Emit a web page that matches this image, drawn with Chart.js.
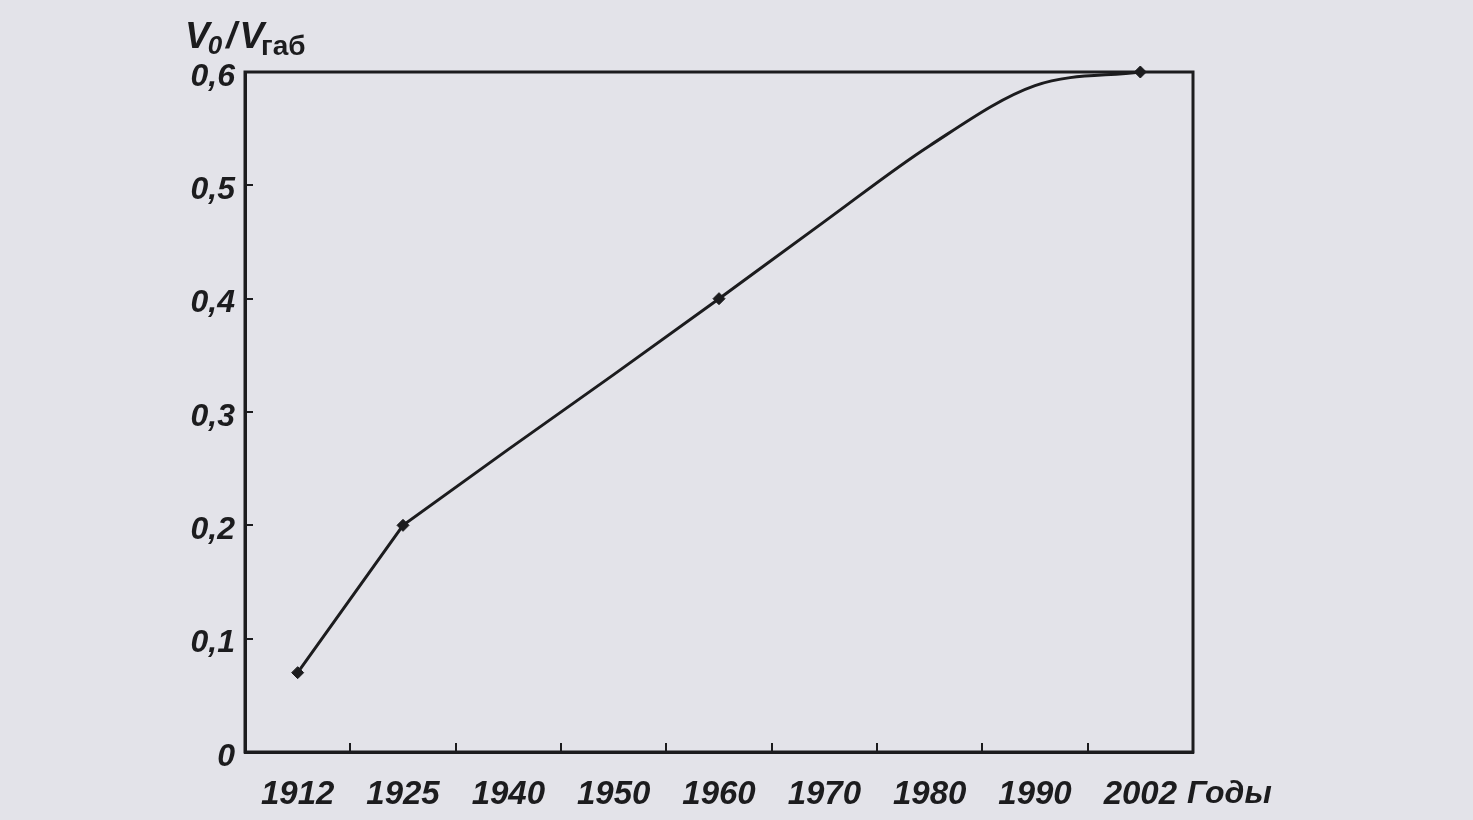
<!DOCTYPE html>
<html lang="ru">
<head>
    <meta charset="UTF-8">
    <title>V0/Vгаб по годам</title>
    <script src="https://cdn.jsdelivr.net/npm/chart.js"></script>
    <style>
        html, body {
            margin: 0;
            padding: 0;
            background-color: #e3e3e9;
        }
        #wrap {
            width: 1473px;
            height: 820px;
        }
    </style>
</head>
<body>

<div id="wrap">
    <canvas id="ratioChart" width="1473" height="820"></canvas>
</div>

<script>
    // Данные графика
    const years = ['1912', '1925', '1940', '1950', '1960', '1970', '1980', '1990', '2002'];
    const ratio = [0.07, 0.2, 0.267, 0.333, 0.4, 0.468, 0.535, 0.588, 0.6];
    const markedYears = ['1912', '1925', '1960', '2002'];
    const yTicks = [0, 0.1, 0.2, 0.3, 0.4, 0.5, 0.6];
    const bendYear = '1960'; // до него ломаная, после - плавный изгиб

    const ink = '#1c1c1e';
    const labelFont = '"Liberation Sans", Arial, sans-serif';
    const bendIdx = years.indexOf(bendYear);

    // Рамка и подписи осей
    const framePlugin = {
        id: 'frame',
        afterDraw(chart) {
            const { ctx, chartArea } = chart;
            ctx.save();
            ctx.strokeStyle = ink;
            ctx.lineWidth = 3;
            ctx.strokeRect(chartArea.left, chartArea.top, chartArea.right - chartArea.left, chartArea.bottom - chartArea.top);

            ctx.fillStyle = ink;
            ctx.textBaseline = 'alphabetic';
            ctx.textAlign = 'left';

            // V0 / Vгаб
            let x = 185;
            const base = 48;
            ctx.font = 'italic bold 37px ' + labelFont;
            ctx.fillText('V', x, base);
            x += ctx.measureText('V').width;
            ctx.font = 'italic bold 26px ' + labelFont;
            ctx.fillText('0', x - 2, base + 6);
            x += ctx.measureText('0').width;
            ctx.font = 'italic bold 37px ' + labelFont;
            ctx.fillText('/', x + 2, base);
            x += ctx.measureText('/').width + 5;
            ctx.fillText('V', x, base);
            x += ctx.measureText('V').width;
            ctx.font = 'bold 28px ' + labelFont;
            ctx.fillText('габ', x - 3, base + 7);

            // Годы
            ctx.font = 'italic bold 32px ' + labelFont;
            ctx.fillText('Годы', chartArea.right - 6, 803);
            ctx.restore();
        }
    };

    const ctx = document.getElementById('ratioChart').getContext('2d');
    const ratioChart = new Chart(ctx, {
        type: 'line',
        data: {
            labels: years,
            datasets: [{
                // ломаная часть
                data: ratio.map((v, i) => i <= bendIdx ? v : null),
                borderColor: ink,
                backgroundColor: ink,
                borderWidth: 3,
                tension: 0,
                pointStyle: 'rectRot',
                pointRadius: years.map(y => markedYears.includes(y) ? 6 : 0),
                pointBorderWidth: 1,
                clip: false
            }, {
                // плавная часть
                data: ratio.map((v, i) => i >= bendIdx ? v : null),
                borderColor: ink,
                backgroundColor: ink,
                borderWidth: 3,
                cubicInterpolationMode: 'monotone',
                pointStyle: 'rectRot',
                pointRadius: years.map((y, i) => i > bendIdx && markedYears.includes(y) ? 6 : 0),
                pointBorderWidth: 1,
                clip: false
            }]
        },
        options: {
            responsive: false,
            animation: false,
            devicePixelRatio: 1,
            layout: {
                padding: { top: 72, right: 280, left: 0, bottom: 0 }
            },
            plugins: {
                legend: { display: false },
                tooltip: { enabled: false }
            },
            scales: {
                x: {
                    type: 'category',
                    offset: true,
                    afterFit: s => { s.height = 68; },
                    grid: {
                        offset: true,
                        drawOnChartArea: false,
                        drawTicks: true,
                        tickLength: -9,
                        lineWidth: 2,
                        color: ink
                    },
                    border: { color: ink, width: 3 },
                    ticks: {
                        color: ink,
                        padding: 32,
                        maxRotation: 0,
                        autoSkip: false,
                        font: { family: labelFont, size: 33, style: 'italic', weight: 'bold' }
                    }
                },
                y: {
                    min: 0,
                    max: 0.6,
                    afterFit: s => { s.width = 245; },
                    afterBuildTicks: s => { s.ticks = yTicks.map(v => ({ value: v })); },
                    grid: {
                        drawOnChartArea: false,
                        drawTicks: true,
                        tickLength: -8,
                        lineWidth: 2,
                        color: ink
                    },
                    border: { color: ink, width: 3 },
                    ticks: {
                        color: ink,
                        padding: 18,
                        labelOffset: 5,
                        font: { family: labelFont, size: 32, style: 'italic', weight: 'bold' },
                        callback: v => v === 0 ? '0' : v.toFixed(1).replace('.', ',')
                    }
                }
            }
        },
        plugins: [framePlugin]
    });
</script>

</body>
</html>
